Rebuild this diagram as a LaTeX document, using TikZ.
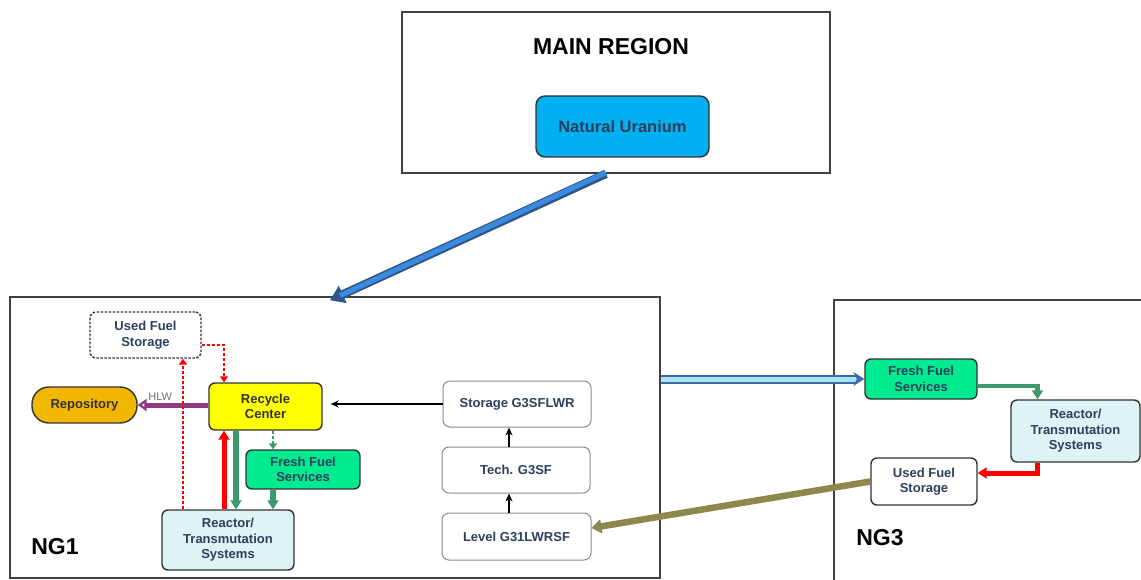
\documentclass[tikz,border=0pt]{standalone}
\usepackage{fontspec}
\setmainfont{Liberation Sans}
\usetikzlibrary{arrows.meta,calc}
\definecolor{txt}{HTML}{2E3F5C}
\definecolor{natu}{HTML}{00B0F0}
\definecolor{gold}{HTML}{F2B800}
\definecolor{ylw}{HTML}{FFFF00}
\definecolor{ffsg}{HTML}{00EA90}
\definecolor{rtsc}{HTML}{DDF3F5}
\definecolor{grn}{HTML}{3C9A6C}
\definecolor{prp}{HTML}{8E3A80}
\definecolor{olv}{HTML}{8C8850}
\definecolor{blu}{HTML}{3A8AE0}
\definecolor{dblu}{HTML}{3A6AA8}
\definecolor{lcy}{HTML}{A8E4F2}
\tikzset{
  region/.style={draw=black!75, line width=1.5pt, fill=white},
  fbox/.style={draw=black!80, line width=1.4pt, rounded corners=6pt, text=txt,
    font=\bfseries\fontsize{13}{15.5}\selectfont, align=center, inner sep=2pt},
  gbox/.style={draw=black!45, line width=1pt, rounded corners=7pt, fill=white, text=txt,
    font=\bfseries\fontsize{13}{15.5}\selectfont, align=center, inner sep=2pt},
  bigtext/.style={font=\bfseries\fontsize{23}{26}\selectfont, text=black},
  tri/.style={-{Triangle[length=9pt,width=11pt]}},
  gline/.style={grn, line width=5.5pt, tri},
  rline/.style={red, line width=5pt, tri},
  rdash/.style={red, line width=1.8pt, dash pattern=on 3pt off 2pt, -{Triangle[length=6pt,width=8pt]}},
  kline/.style={black, line width=2.3pt, -{Stealth[length=8pt,width=7pt]}},
}
\begin{document}
\begin{tikzpicture}[x=1pt,y=-1pt]
\clip (0,0) rectangle (1141,580);
\useasboundingbox (0,0) rectangle (1141,580);

% regions
\node[region, minimum width=428, minimum height=161] (main) at (616,92.5) {};
\node[bigtext] (mainlbl) at (611,47) {MAIN REGION};
\node[fbox, fill=natu, rounded corners=9pt, minimum width=173, minimum height=61,
      font=\bfseries\fontsize{16.5}{19}\selectfont] (natU) at (622.5,126.5) {Natural Uranium};

\node[region, minimum width=650, minimum height=281] (ng1) at (335,437.5) {};
\node[region, minimum width=320, minimum height=284] (ng3) at (994,442) {};
\node[bigtext] (ng1lbl) at (55,547) {NG1};
\node[bigtext] (ng3lbl) at (880,538) {NG3};

% NG1 boxes
\node[fbox, dashed, dash pattern=on 2.5pt off 1.5pt, fill=white, minimum width=111, minimum height=46] (ufs1) at (145.5,335) {Used Fuel\\Storage};
\node[fbox, fill=gold, rounded corners=17pt, minimum width=105, minimum height=36, text=black!80] (repo) at (84.5,405) {Repository};
\node[fbox, fill=ylw, minimum width=113, minimum height=47, text=black!80] (rc) at (265.5,406.5) {Recycle\\Center};
\node[fbox, fill=ffsg, minimum width=114, minimum height=39] (ffs1) at (303,469.5) {Fresh Fuel\\Services};
\node[fbox, fill=rtsc, minimum width=132, minimum height=60] (rts1) at (228,540) {Reactor/\\Transmutation\\Systems};
\node[gbox, minimum width=148, minimum height=46] (sto) at (517,404) {Storage G3SFLWR};
\node[gbox, minimum width=148, minimum height=46] (tech) at (516,470) {Tech. G3SF};
\node[gbox, minimum width=149, minimum height=47] (lvl) at (516.5,536.5) {Level G31LWRSF};

% NG3 boxes
\node[fbox, fill=ffsg, minimum width=112, minimum height=40] (ffs3) at (921,379) {Fresh Fuel\\Services};
\node[fbox, fill=rtsc, minimum width=129, minimum height=62] (rts3) at (1075.5,431) {Reactor/\\Transmutation\\Systems};
\node[fbox, fill=white, minimum width=106, minimum height=47] (ufs3) at (924,481.5) {Used Fuel\\Storage};

% helper x positions
\coordinate (xrd) at (183,0);
\coordinate (xr) at (224,0);
\coordinate (xg) at (236,0);
\coordinate (xf) at (273,0);
\coordinate (xk) at (509,0);

% NU to NG1
\draw[dblu!80!black, line width=8.5pt, -{Triangle[length=14pt,width=18pt]}] ([xshift=-10]main.south) -- ([xshift=-5,yshift=-4]ng1.north);
\draw[blu, line width=5pt, shorten >=11pt] ([xshift=-10,yshift=1]main.south) -- ([xshift=-5,yshift=-4]ng1.north);

% NG1 connectors
\draw[prp, line width=5pt, -{Triangle[open,length=9pt,width=12pt]}] (rc.west |- repo.east) -- (repo.east)
  node[pos=0.68, above=-1pt, text=black!55, font=\fontsize{11}{12}\selectfont] (hlw) {HLW};
\draw[kline, shorten >=8pt] (sto.west) -- (sto.west -| rc.east);
\draw[kline] (tech.north -| xk) -- (sto.south -| xk);
\draw[kline] (lvl.north -| xk) -- (tech.south -| xk);
\draw[rdash] ([yshift=-10]ufs1.east) -| (rc.north -| xr);
\draw[rdash] (rts1.north -| xrd) -- (ufs1.south -| xrd);
\draw[rline] (rts1.north -| xr) -- (rc.south -| xr);
\draw[gline] (rc.south -| xg) -- (rts1.north -| xg);
\draw[grn, line width=1.8pt, dash pattern=on 3pt off 2pt, -{Triangle[length=6pt,width=8pt]}] (rc.south -| xf) -- (ffs1.north -| xf);
\draw[gline] (ffs1.south -| xf) -- (rts1.north -| xf);

% NG1 to NG3
\draw[dblu, double=lcy, double distance=5pt, line width=2pt, -{Stealth[length=11pt,width=14pt]}] (ng1.east |- ffs3.west) -- (ffs3.west);

% NG3 connectors
\draw[grn, line width=4.5pt, -{Triangle[length=9pt,width=11pt]}] ([yshift=-7]ffs3.east) -| ([xshift=-38]rts3.north);
\draw[rline] ([xshift=-38]rts3.south) |- ([yshift=8.5]ufs3.east);
\draw[olv, line width=6.5pt, -{Triangle[length=10pt,width=14pt]}] (ufs3.west) -- ([yshift=8.5]lvl.east);
\end{tikzpicture}
\end{document}
